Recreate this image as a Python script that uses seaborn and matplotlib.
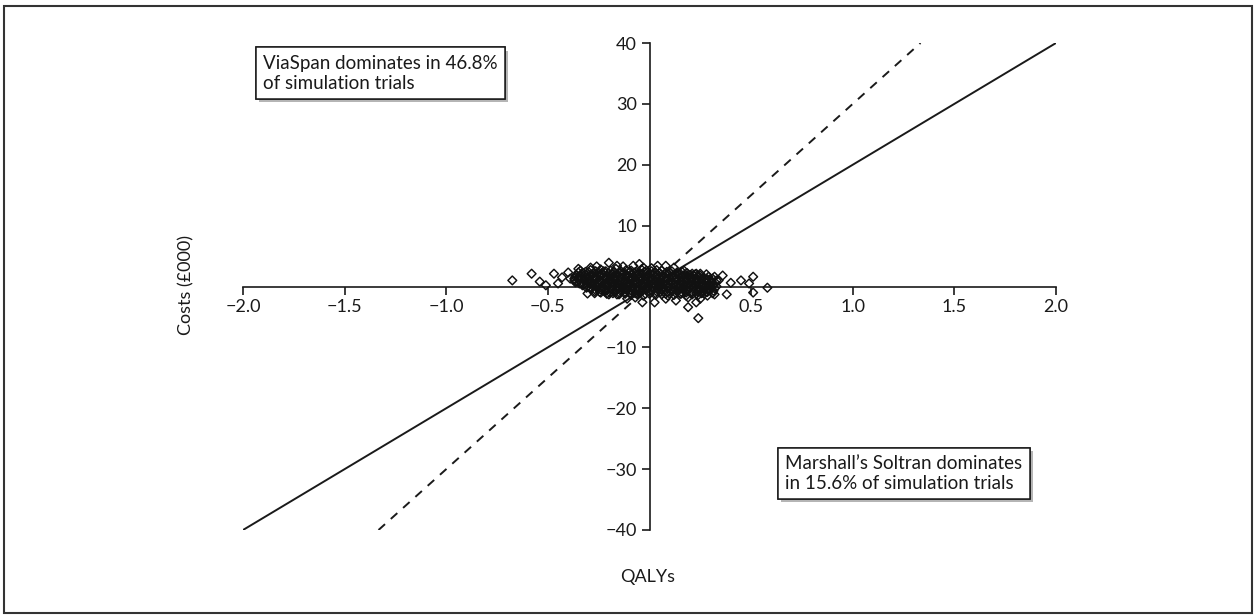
import matplotlib
matplotlib.use("Agg")
import matplotlib.pyplot as plt
import matplotlib.patheffects as pe
from matplotlib.patches import Rectangle
import seaborn as sns
import pandas as pd

# Incremental QALYs and incremental costs (GBP 000) per simulation trial
# --- dense central cloud, row by row ---
row1_qaly = [-0.34, -0.315, -0.29, -0.265, -0.24, -0.215, -0.19, -0.165, -0.14, -0.115, -0.09, -0.065,
             -0.04, -0.015, 0.01, 0.035, 0.06, 0.085, 0.11, 0.135, 0.16, 0.185, 0.21]
row1_cost = [2.6, 2.4, 2.7, 2.5, 2.8, 2.5, 2.6, 2.9, 2.5, 2.7, 2.6, 2.4,
             2.8, 2.6, 2.5, 2.7, 2.6, 2.4, 2.5, 2.3, 2.4, 2.2, 2.1]
row2_qaly = [-0.36, -0.335, -0.31, -0.285, -0.26, -0.235, -0.21, -0.185, -0.16, -0.135, -0.11, -0.085, -0.06,
             -0.035, -0.01, 0.015, 0.04, 0.065, 0.09, 0.115, 0.14, 0.165, 0.19, 0.215, 0.24, 0.265, 0.29]
row2_cost = [1.9, 2.1, 1.8, 2.0, 1.9, 2.2, 1.8, 2.0, 1.9, 2.1, 1.7, 2.0, 1.9,
             2.1, 1.8, 2.0, 1.9, 1.8, 2.0, 1.7, 1.9, 1.8, 1.6, 1.8, 1.7, 1.5, 1.6]
row3_qaly = [-0.37, -0.345, -0.32, -0.295, -0.27, -0.245, -0.22, -0.195, -0.17, -0.145, -0.12, -0.095, -0.07,
             -0.045, -0.02, 0.005, 0.03, 0.055, 0.08, 0.105, 0.13, 0.155, 0.18, 0.205, 0.23, 0.255, 0.28,
             0.305, 0.33]
row3_cost = [1.3, 1.5, 1.2, 1.4, 1.3, 1.1, 1.4, 1.2, 1.3, 1.5, 1.2, 1.3, 1.1,
             1.4, 1.2, 1.3, 1.0, 1.2, 1.3, 1.1, 1.2, 1.0, 1.1, 1.2, 0.9, 1.1, 1.0,
             0.9, 1.0]
row4_qaly = [-0.36, -0.335, -0.31, -0.285, -0.26, -0.235, -0.21, -0.185, -0.16, -0.135, -0.11, -0.085, -0.06,
             -0.035, -0.01, 0.015, 0.04, 0.065, 0.09, 0.115, 0.14, 0.165, 0.19, 0.215, 0.24, 0.265, 0.29,
             0.315]
row4_cost = [0.8, 0.6, 0.9, 0.7, 0.6, 0.8, 0.5, 0.7, 0.6, 0.8, 0.5, 0.7, 0.6,
             0.4, 0.7, 0.5, 0.6, 0.4, 0.6, 0.5, 0.3, 0.5, 0.4, 0.6, 0.3, 0.4, 0.2,
             0.3]
row5_qaly = [-0.33, -0.305, -0.28, -0.255, -0.23, -0.205, -0.18, -0.155, -0.13, -0.105, -0.08, -0.055, -0.03,
             -0.005, 0.02, 0.045, 0.07, 0.095, 0.12, 0.145, 0.17, 0.195, 0.22, 0.245, 0.27, 0.295, 0.32]
row5_cost = [0.2, 0.0, 0.3, 0.1, -0.1, 0.2, 0.0, 0.1, -0.2, 0.1, 0.0, -0.1, 0.2,
             0.0, -0.2, 0.1, -0.1, 0.0, -0.3, -0.1, 0.0, -0.2, -0.1, -0.3, -0.2, -0.4, -0.3]
row6_qaly = [-0.29, -0.265, -0.24, -0.215, -0.19, -0.165, -0.14, -0.115, -0.09, -0.065, -0.04, -0.015, 0.01,
             0.035, 0.06, 0.085, 0.11, 0.135, 0.16, 0.185, 0.21, 0.235, 0.26, 0.285, 0.31]
row6_cost = [-0.4, -0.6, -0.5, -0.7, -0.4, -0.6, -0.8, -0.5, -0.7, -0.6, -0.9, -0.5, -0.7,
             -0.8, -0.6, -0.9, -0.7, -0.8, -1.0, -0.7, -0.9, -0.8, -1.0, -0.9, -1.1]
row7_qaly = [-0.24, -0.21, -0.18, -0.15, -0.12, -0.09, -0.06, -0.03, 0.00, 0.03, 0.06, 0.09,
             0.12, 0.15, 0.18, 0.21, 0.24, 0.27]
row7_cost = [-1.0, -1.2, -1.1, -1.3, -1.2, -1.4, -1.3, -1.5, -1.2, -1.4, -1.3, -1.5,
             -1.4, -1.2, -1.5, -1.3, -1.4, -1.2]

# --- trials falling between the rows above ---
mid1_qaly = [-0.35, -0.325, -0.3, -0.275, -0.25, -0.225, -0.2, -0.175, -0.15, -0.125, -0.1, -0.075, -0.05,
             -0.025, 0.0, 0.025, 0.05, 0.075, 0.1, 0.125, 0.15, 0.175, 0.2, 0.225, 0.25]
mid1_cost = [2.3, 2.2, 2.4, 2.1, 2.3, 2.5, 2.2, 2.4, 2.3, 2.2, 2.4, 2.3, 2.1,
             2.4, 2.2, 2.3, 2.2, 2.1, 2.3, 2.0, 2.1, 2.0, 1.9, 2.0, 1.8]
mid2_qaly = [-0.365, -0.34, -0.315, -0.29, -0.265, -0.24, -0.215, -0.19, -0.165, -0.14, -0.115, -0.09, -0.065,
             -0.04, -0.015, 0.01, 0.035, 0.06, 0.085, 0.11, 0.135, 0.16, 0.185, 0.21, 0.235, 0.26, 0.285,
             0.31]
mid2_cost = [1.6, 1.7, 1.5, 1.7, 1.6, 1.8, 1.5, 1.6, 1.7, 1.5, 1.6, 1.4, 1.7,
             1.5, 1.6, 1.4, 1.6, 1.5, 1.3, 1.5, 1.4, 1.5, 1.3, 1.4, 1.2, 1.3, 1.2,
             1.3]
mid3_qaly = [-0.37, -0.345, -0.32, -0.295, -0.27, -0.245, -0.22, -0.195, -0.17, -0.145, -0.12, -0.095, -0.07,
             -0.045, -0.02, 0.005, 0.03, 0.055, 0.08, 0.105, 0.13, 0.155, 0.18, 0.205, 0.23, 0.255, 0.28,
             0.305, 0.325]
mid3_cost = [1.0, 1.1, 0.9, 1.0, 1.1, 0.9, 1.0, 0.8, 1.0, 0.9, 0.8, 1.0, 0.9,
             0.8, 1.0, 0.8, 0.9, 0.7, 0.9, 0.8, 0.7, 0.8, 0.7, 0.9, 0.6, 0.7, 0.6,
             0.7, 0.6]
mid4_qaly = [-0.345, -0.32, -0.295, -0.27, -0.245, -0.22, -0.195, -0.17, -0.145, -0.12, -0.095, -0.07, -0.045,
             -0.02, 0.005, 0.03, 0.055, 0.08, 0.105, 0.13, 0.155, 0.18, 0.205, 0.23, 0.255, 0.28, 0.305,
             0.33]
mid4_cost = [0.5, 0.4, 0.5, 0.3, 0.4, 0.5, 0.3, 0.4, 0.2, 0.4, 0.3, 0.2, 0.4,
             0.3, 0.2, 0.3, 0.1, 0.3, 0.2, 0.1, 0.2, 0.0, 0.1, 0.2, 0.0, 0.1, -0.1,
             0.0]
mid5_qaly = [-0.31, -0.285, -0.26, -0.235, -0.21, -0.185, -0.16, -0.135, -0.11, -0.085, -0.06, -0.035, -0.01,
             0.015, 0.04, 0.065, 0.09, 0.115, 0.14, 0.165, 0.19, 0.215, 0.24, 0.265, 0.29, 0.315]
mid5_cost = [-0.2, -0.3, -0.1, -0.3, -0.2, -0.4, -0.3, -0.2, -0.4, -0.3, -0.5, -0.3, -0.4,
             -0.2, -0.5, -0.4, -0.3, -0.6, -0.4, -0.5, -0.6, -0.4, -0.6, -0.7, -0.6, -0.7]
mid6_qaly = [-0.27, -0.245, -0.22, -0.195, -0.17, -0.145, -0.12, -0.095, -0.07, -0.045, -0.02, 0.005, 0.03,
             0.055, 0.08, 0.105, 0.13, 0.155, 0.18, 0.205, 0.23, 0.255, 0.28]
mid6_cost = [-0.8, -0.9, -0.8, -1.0, -0.9, -1.1, -0.9, -1.0, -1.1, -0.9, -1.2, -1.0, -1.1,
             -0.9, -1.2, -1.0, -1.1, -1.2, -1.0, -1.1, -1.2, -1.1, -0.9]

# --- sparser trials around the edge of the cloud ---
edge_qaly = [-0.675, -0.58, -0.54, -0.51, -0.47, -0.45, -0.43, -0.40, -0.39, -0.365,
             0.45, 0.51, 0.49, 0.51, 0.58, 0.38, 0.40, 0.36,
             0.19, 0.24,
             -0.35, -0.29, -0.26, -0.20, -0.16, -0.13, -0.08, -0.05, -0.03, 0.01, 0.04, 0.08, 0.12,
             0.17, 0.23, 0.25, 0.28, 0.32, 0.34,
             -0.305, -0.27, -0.20, -0.16, -0.11, -0.07, -0.035, 0.025, 0.08, 0.13, 0.19, 0.23,
             0.25, 0.285, 0.32]
edge_cost = [1.0, 2.1, 0.8, 0.2, 2.1, 0.5, 1.5, 2.3, 1.3, 0.7,
             1.0, 1.6, 0.5, -1.0, -0.2, -1.3, 0.6, 1.8,
             -3.4, -5.2,
             2.9, 3.1, 3.3, 3.9, 3.4, 3.3, 3.4, 3.7, 3.1, 3.0, 3.4, 3.4, 3.1,
             2.6, 2.1, 2.1, 2.0, 1.6, 1.0,
             -1.15, -1.1, -1.3, -1.3, -2.0, -1.8, -2.6, -2.6, -2.0, -2.3, -1.8, -2.6,
             -2.0, -1.5, -1.3]

# Willingness-to-pay thresholds (GBP 000 per QALY) and their line styles
wtp_thresholds = [20, 30]
wtp_styles = ["-", "--"]

x_ticks = [-2.0, -1.5, -1.0, -0.5, 0.5, 1.0, 1.5, 2.0]
y_ticks = [-40, -30, -20, -10, 10, 20, 30, 40]
x_limits = (-2.0, 2.0)
y_limits = (-40, 40)

note_viaspan = "ViaSpan dominates in 46.8%\nof simulation trials"
note_soltran = "Marshall\u2019s Soltran dominates\nin 15.6% of simulation trials"

qalys = (row1_qaly + mid1_qaly + row2_qaly + mid2_qaly + row3_qaly + mid3_qaly + row4_qaly + mid4_qaly
         + row5_qaly + mid5_qaly + row6_qaly + mid6_qaly + row7_qaly + edge_qaly)
costs = (row1_cost + mid1_cost + row2_cost + mid2_cost + row3_cost + mid3_cost + row4_cost + mid4_cost
         + row5_cost + mid5_cost + row6_cost + mid6_cost + row7_cost + edge_cost)
trials = pd.DataFrame({"QALYs": qalys, "Costs": costs})

sns.set_theme(style="white")
plt.rcParams["font.family"] = ["Lato", "DejaVu Sans"]
plt.rcParams["axes.unicode_minus"] = True

W, H = 1256, 615
fig = plt.figure(figsize=(W / 100, H / 100), dpi=100)
ax = fig.add_axes([243 / W, 1 - 530 / H, 813 / W, 487 / H])
ax.set_facecolor("none")

# Threshold lines through the origin, running out to the cost limits
for lam, ls in zip(wtp_thresholds, wtp_styles):
    xs = [y_limits[0] / lam, y_limits[1] / lam]
    ys = [y_limits[0], y_limits[1]]
    line_kw = dict(dashes=(4.5, 4)) if ls == "--" else {}
    ax.plot(xs, ys, color="#1a1a1a", lw=1.4, linestyle=ls, zorder=2, **line_kw)

sns.scatterplot(data=trials, x="QALYs", y="Costs", marker="D", s=20,
                facecolors="none", edgecolor="#111111", linewidth=1.05,
                ax=ax, zorder=3, legend=False)
for coll in ax.collections:
    coll.set_facecolor("none")
    coll.set_edgecolor("#111111")

ax.set_xlim(*x_limits)
ax.set_ylim(*y_limits)

# Axes crossing at the origin
for side in ("top", "right"):
    ax.spines[side].set_visible(False)
ax.spines["left"].set_position(("data", 0))
ax.spines["bottom"].set_position(("data", 0))
for side in ("left", "bottom"):
    ax.spines[side].set_color("#1a1a1a")
    ax.spines[side].set_linewidth(1.2)
    ax.spines[side].set_zorder(1)

ax.set_xticks(x_ticks)
ax.set_yticks(y_ticks)
ax.set_xticklabels([f"{v:.1f}".replace("-", "\u2212") for v in x_ticks])
ax.set_yticklabels([f"{v:d}".replace("-", "\u2212") for v in y_ticks])
ax.tick_params(axis="both", which="major", direction="out", length=6, width=1.2,
               color="#1a1a1a", labelsize=13, labelcolor="#1a1a1a", pad=3,
               bottom=True, left=True)
ax.set_xlabel("")
ax.set_ylabel("")

fig.text(186 / W, 1 - 285 / H, "Costs (\u00a3000)", rotation=90, ha="center", va="center",
         fontsize=13, color="#1a1a1a")
fig.text(648 / W, 1 - 577 / H, "QALYs", ha="center", va="center", fontsize=13, color="#1a1a1a")

# Annotation boxes with a drop shadow
for txt, (px, py) in [(note_viaspan, (263, 55)), (note_soltran, (785, 455))]:
    t = fig.text(px / W, 1 - py / H, txt, ha="left", va="top", fontsize=13.5, color="#1a1a1a",
                 linespacing=1.2,
                 bbox=dict(boxstyle="square,pad=0.4", facecolor="white", edgecolor="#1a1a1a", lw=1.1))
    t.get_bbox_patch().set_path_effects([
        pe.withSimplePatchShadow(offset=(2.2, -2.2), shadow_rgbFace="#b5b5b5", alpha=1.0),
        pe.Normal()])

# Outer frame around the figure
fig.add_artist(Rectangle((4 / W, 2 / H), 1248 / W, 607 / H, transform=fig.transFigure,
                         fill=False, edgecolor="#333333", lw=1.5))

fig.savefig("out.png", dpi=100)
